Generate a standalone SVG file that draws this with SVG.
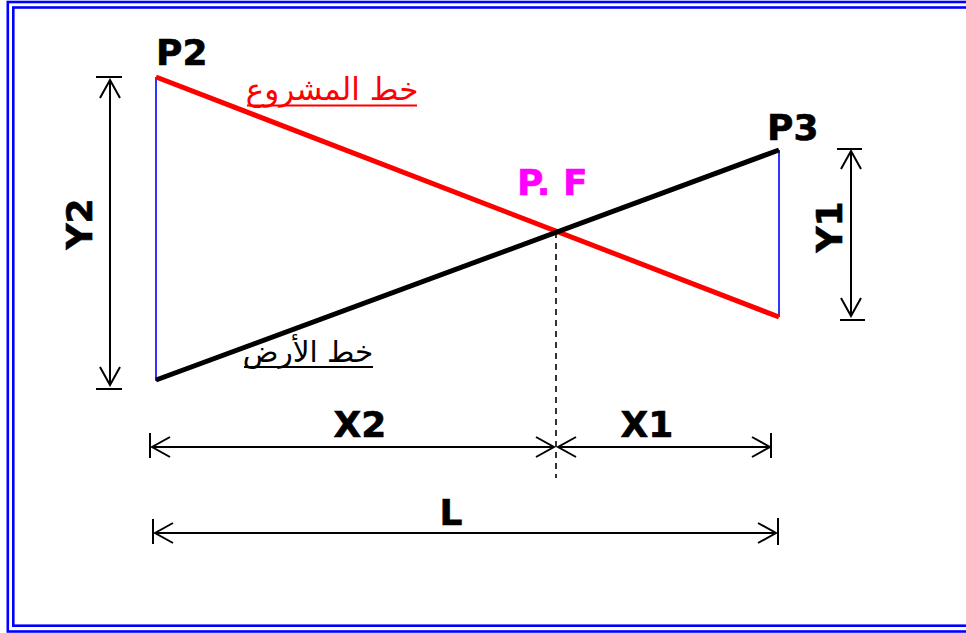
<svg xmlns="http://www.w3.org/2000/svg" width="966" height="633" viewBox="0 0 966 633">
<style>
.frame{fill:none;stroke:#0000ff;stroke-width:2.6}
.side{stroke:#0000ff;stroke-width:1.6}
.dim{stroke:#000;stroke-width:2;fill:none}
.tick{stroke:#000;stroke-width:2}
.lbl{font-family:"DejaVu Sans",Verdana,sans-serif;font-weight:bold;font-size:36px;fill:#000;stroke:#000;stroke-width:0.6}
.ar{font-family:"DejaVu Sans","Noto Sans",sans-serif}
</style>
<defs>
<marker id="v" viewBox="-20 -12 22 24" refX="0" refY="0" markerWidth="22" markerHeight="24" markerUnits="userSpaceOnUse" orient="auto-start-reverse">
<path d="M-18,-10 L0,0 L-18,10" fill="none" stroke="#000" stroke-width="2"/>
</marker>
</defs>
<rect class="frame" x="7.8" y="2" width="990" height="629.5"/>
<rect class="frame" x="13.3" y="7.5" width="980" height="618.2"/>

<g id="connectors">
<line class="side" x1="156" y1="77" x2="156" y2="381"/>
<line class="side" x1="779" y1="150" x2="779" y2="317"/>
<line x1="156" y1="77" x2="779" y2="317" stroke="#ff0000" stroke-width="5"/>
<line x1="156" y1="380" x2="779" y2="150" stroke="#000" stroke-width="5"/>
<line x1="556" y1="232" x2="556" y2="478" stroke="#000" stroke-width="1.6" stroke-dasharray="6,5"/>
<line class="tick" x1="96" y1="77" x2="122" y2="77"/>
<line class="tick" x1="96" y1="389" x2="122" y2="389"/>
<line class="dim" x1="110" y1="80" x2="110" y2="385" marker-start="url(#v)" marker-end="url(#v)"/>
<line class="tick" x1="837" y1="149" x2="862" y2="149"/>
<line class="tick" x1="840" y1="320" x2="865" y2="320"/>
<line class="dim" x1="851" y1="151" x2="851" y2="316" marker-start="url(#v)" marker-end="url(#v)"/>
<line class="tick" x1="150" y1="433" x2="150" y2="458"/>
<line class="tick" x1="771" y1="433" x2="771" y2="458"/>
<line class="dim" x1="152" y1="447" x2="554" y2="447" marker-start="url(#v)" marker-end="url(#v)"/>
<line class="dim" x1="558" y1="447" x2="770" y2="447" marker-start="url(#v)" marker-end="url(#v)"/>
<line class="tick" x1="153" y1="519" x2="153" y2="544"/>
<line class="tick" x1="778" y1="518" x2="778" y2="545"/>
<line class="dim" x1="155" y1="533" x2="776" y2="533" marker-start="url(#v)" marker-end="url(#v)"/>
</g>

<g id="P2"><text class="lbl" x="156" y="65">P2</text></g>
<g id="P3"><text class="lbl" x="767" y="140">P3</text></g>
<g id="PF"><text class="lbl" x="517" y="195" style="fill:#ff00ff;stroke:#ff00ff">P. F</text></g>
<g id="Y2"><text class="lbl" x="0" y="0" text-anchor="middle" transform="translate(92,224) rotate(-90)">Y2</text></g>
<g id="Y1"><text class="lbl" x="0" y="0" text-anchor="middle" transform="translate(842,227) rotate(-90)">Y1</text></g>
<g id="X2"><text class="lbl" x="360" y="437" text-anchor="middle">X2</text></g>
<g id="X1"><text class="lbl" x="647" y="437" text-anchor="middle">X1</text></g>
<g id="L"><text class="lbl" x="451" y="525" text-anchor="middle">L</text></g>
<g id="project-line">
<text class="ar" x="332" y="100" text-anchor="middle" font-size="31" fill="#ff0000">خط المشروع</text>
<line x1="247" y1="105.5" x2="417" y2="105.5" stroke="#ff0000" stroke-width="2"/>
</g>
<g id="ground-line">
<text class="ar" x="308" y="362" text-anchor="middle" font-size="29.5" fill="#000">خط الأرض</text>
<line x1="244" y1="367" x2="373" y2="367" stroke="#000" stroke-width="2"/>
</g>
</svg>
